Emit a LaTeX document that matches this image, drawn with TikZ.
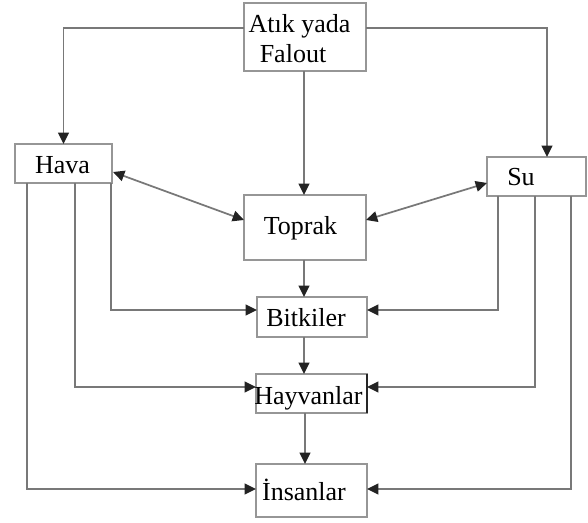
\documentclass[tikz,border=0pt]{standalone}
\usepackage{fontspec}
\setmainfont{Liberation Serif}
\usetikzlibrary{arrows.meta,calc}
\definecolor{boxgray}{RGB}{150,150,150}
\definecolor{linegray}{RGB}{120,120,120}
\definecolor{tipgray}{RGB}{35,35,35}
\begin{document}
\begin{tikzpicture}[x=0.75pt,y=-0.75pt,
  box/.style={draw=boxgray, line width=1.2pt, fill=white, inner sep=0pt, outer sep=0pt},
  lbl/.style={font=\fontsize{19.5}{21}\selectfont, inner sep=0pt, anchor=base, text=black},
  arr/.style={draw=linegray, line width=1.3pt, -{Triangle[length=8.5pt,width=8pt,color=tipgray]}},
  darr/.style={draw=linegray, line width=1.3pt, {Triangle[length=8.5pt,width=8pt,color=tipgray]}-{Triangle[length=8.5pt,width=8pt,color=tipgray]}}]
\useasboundingbox[fill=white] (0,0) rectangle (588,523);
% boxes
\node[box, minimum width=122*0.75pt, minimum height=68*0.75pt] (atik) at (305,37) {};
\node[box, minimum width=97*0.75pt, minimum height=39*0.75pt] (hava) at (63.5,163.5) {};
\node[box, minimum width=99*0.75pt, minimum height=39*0.75pt] (su) at (536.5,176.5) {};
\node[box, minimum width=122*0.75pt, minimum height=65*0.75pt] (toprak) at (305,227.5) {};
\node[box, minimum width=110*0.75pt, minimum height=40*0.75pt] (bitk) at (312,317) {};
\node[box, minimum width=111*0.75pt, minimum height=39*0.75pt] (hayv) at (311.5,393.5) {};
\node[box, minimum width=111*0.75pt, minimum height=53*0.75pt] (insan) at (311.5,490.5) {};
\draw[black!85, line width=1pt] (hayv.north east) -- (hayv.south east);
% texts
\node[lbl] (t1) at (299.5,33) {Atık yada};
\node[lbl] (t2) at (293,63) {Falout};
\node[lbl] (t3) at (62.5,174) {Hava};
\node[lbl] (t4) at (521,186) {Su};
\node[lbl] (t5) at (300.5,235) {Toprak};
\node[lbl] (t6) at (306,327) {Bitkiler};
\node[lbl] (t7) at (308.5,404) {Hayvanlar};
\node[lbl] (t8) at (304,500) {İnsanlar};
% helper coordinates
\coordinate (c1) at ($(toprak.south)+(-1,0)$);
\coordinate (c2) at ($(bitk.south)+(-8,0)$);
\coordinate (c3) at ($(hayv.south)+(-6.5,0)$);
% connectors from Atık
\draw[arr] ($(atik.west)+(0,-9)$) -| (hava.north);
\draw[arr] ($(atik.east)+(0,-9)$) -| ($(su.north)+(10.5,0)$);
\draw[arr] ($(atik.south)+(-1,0)$) -- ($(toprak.north)+(-1,0)$);
% two-way
\draw[darr] ($(hava.east)+(1,8.5)$) -- ($(toprak.west)+(0,-7.5)$);
\draw[darr] ($(su.west)+(0,6.5)$) -- ($(toprak.east)+(0,-7.5)$);
% vertical chain
\draw[arr] (c1) -- (c1 |- bitk.north);
\draw[arr] (c2) -- (c2 |- hayv.north);
\draw[arr] (c3) -- (c3 |- insan.north);
% from Hava
\draw[arr] ($(hava.south west)+(96,0)$) |- ($(bitk.west)+(0,-7)$);
\draw[arr] ($(hava.south west)+(60,0)$) |- ($(hayv.west)+(0,-6.5)$);
\draw[arr] ($(hava.south west)+(12,0)$) |- ($(insan.west)+(0,-1.5)$);
% from Su
\draw[arr] ($(su.south west)+(11,0)$) |- ($(bitk.east)+(0,-7)$);
\draw[arr] ($(su.south west)+(48,0)$) |- ($(hayv.east)+(0,-6.5)$);
\draw[arr] ($(su.south west)+(84,0)$) |- ($(insan.east)+(0,-1.5)$);
\end{tikzpicture}
\end{document}
